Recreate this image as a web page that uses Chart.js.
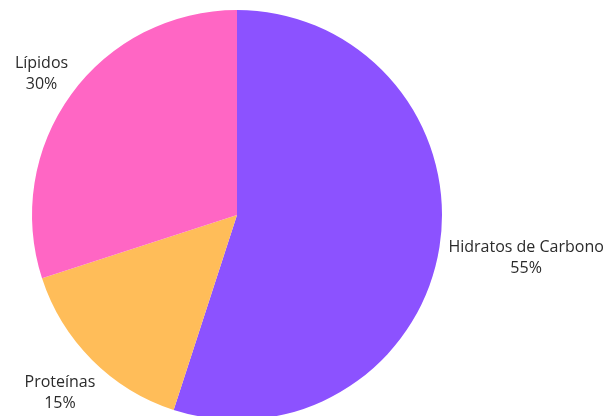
<!DOCTYPE html>
<html>
<head>
<meta charset="utf-8">
<script src="https://cdn.jsdelivr.net/npm/chart.js@4/dist/chart.umd.min.js"></script>
<style>
  html, body { margin: 0; padding: 0; background: #fff; overflow: hidden; }
  #wrap { width: 606px; height: 416px; overflow: hidden; }
</style>
</head>
<body>
<div id="wrap"><canvas id="pie" width="606" height="420"></canvas></div>
<script>
const categories = ["Hidratos de Carbono", "Proteínas", "Lípidos"];
const percents = [55, 15, 30];
const sliceColors = ["#8c52ff", "#ffbd59", "#ff66c4"];

// labels outside the pie, name on top and percent below
const outsideLabels = {
    id: "outsideLabels",
    afterDraw(chart) {
        const ctx = chart.ctx;
        const arcs = chart.getDatasetMeta(0).data;
        ctx.save();
        ctx.font = "16px 'Open Sans'";
        ctx.fillStyle = "#2b2b2b";
        ctx.textAlign = "center";
        ctx.textBaseline = "middle";
        const lineH = 21;
        arcs.forEach((arc, i) => {
            const mid = (arc.startAngle + arc.endAngle) / 2;
            const dx = Math.cos(mid), dy = Math.sin(mid);
            const lines = [categories[i], percents[i] + "%"];
            const w = Math.max(...lines.map(t => ctx.measureText(t).width));
            const h = lineH * lines.length;
            const r = arc.outerRadius + 10;
            const cx = arc.x + dx * r + dx * w / 2;
            const cy = arc.y + dy * (r + h * 0.75) + 4;
            lines.forEach((t, k) => {
                ctx.fillText(t, cx, cy + (k - (lines.length - 1) / 2) * lineH);
            });
        });
        ctx.restore();
    }
};

new Chart(document.getElementById("pie").getContext("2d"), {
    type: "pie",
    data: {
        labels: categories,
        datasets: [{
            data: percents,
            backgroundColor: sliceColors,
            borderWidth: 0
        }]
    },
    options: {
        responsive: false,
        animation: false,
        layout: { padding: { left: 32, right: 164, top: 10, bottom: 0 } },
        plugins: { legend: { display: false }, tooltip: { enabled: false } }
    },
    plugins: [outsideLabels]
});
</script>
</body>
</html>
